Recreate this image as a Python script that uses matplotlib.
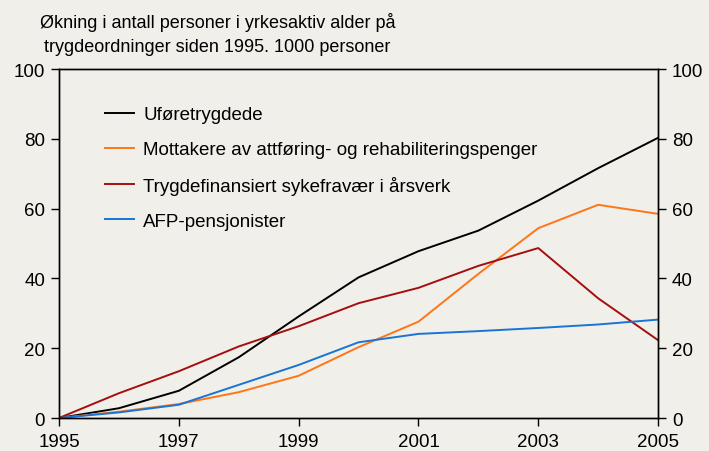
import matplotlib
matplotlib.use("Agg")
import matplotlib.pyplot as plt

years = [1995, 1996, 1997, 1998, 1999, 2000, 2001, 2002, 2003, 2004, 2005]
uforetrygdede = [0, 2.8, 7.8, 17.4, 29.1, 40.3, 47.8, 53.7, 62.3, 71.6, 80.3]
attforing = [0, 1.8, 4.0, 7.4, 12.1, 20.3, 27.6, 41.3, 54.4, 61.1, 58.5]
sykefravaer = [0, 7.1, 13.4, 20.5, 26.3, 32.9, 37.3, 43.6, 48.7, 34.3, 22.3]
afp = [0, 1.6, 3.8, 9.5, 15.2, 21.7, 24.1, 24.9, 25.8, 26.8, 28.2]

labels = ["Uføretrygdede",
          "Mottakere av attføring- og rehabiliteringspenger",
          "Trygdefinansiert sykefravær i årsverk",
          "AFP-pensjonister"]
colors = ["#000000", "#ff7518", "#a50e0e", "#1a74d4"]
x_ticks = [1995, 1997, 1999, 2001, 2003, 2005]
y_ticks = [0, 20, 40, 60, 80, 100]

bg = "#f0efe9"
plt.rcParams['font.family'] = ['Liberation Sans', 'DejaVu Sans']

fig = plt.figure(figsize=(7.09, 4.52), dpi=100, facecolor=bg)
ax = fig.add_axes([0.0832, 0.073, 0.845, 0.772])
ax.set_facecolor(bg)

for vals, lab, col in zip([uforetrygdede, attforing, sykefravaer, afp], labels, colors):
    ax.plot(years, vals, color=col, lw=1.4, label=lab)

ax.set_xlim(1995, 2005)
ax.set_ylim(0, 100)
ax.set_xticks(x_ticks)
ax.set_yticks(y_ticks)
ax.tick_params(direction='out', length=6, width=1, labelsize=13.5, pad=4)
ax.tick_params(axis='x', pad=5)

ax2 = ax.twinx()
ax2.set_ylim(0, 100)
ax2.set_yticks(y_ticks)
ax2.tick_params(direction='out', length=6, width=1, labelsize=13.5, pad=4)

for a in (ax, ax2):
    for s in a.spines.values():
        s.set_linewidth(1)

# legend sits inside the plot, no frame
leg = ax.legend(loc='upper left', bbox_to_anchor=(0.048, 0.942), frameon=False,
                fontsize=13.5, handlelength=1.55, handletextpad=0.5,
                labelspacing=0.95)

fig.text(0.307, 0.924, "Økning i antall personer i yrkesaktiv alder på\ntrygdeordninger siden 1995. 1000 personer",
         ha='center', va='center', fontsize=13, linespacing=1.5)

fig.savefig("out.png", dpi=100, facecolor=bg)
